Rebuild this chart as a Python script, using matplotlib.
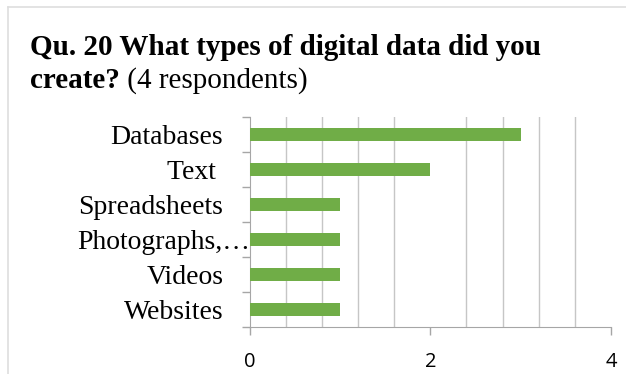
import matplotlib
matplotlib.use("Agg")
import matplotlib.pyplot as plt
import matplotlib.transforms as mtransforms
import numpy as np

categories = ["Databases", "Text ", "Spreadsheets", "Photographs,…", "Videos", "Websites"]
values = [3, 2, 1, 1, 1, 1]
x_major = [0, 2, 4]
x_grid_step = 0.4

bar_color = "#70ad47"
grid_color = "#c6c6c6"
axis_color = "#a6a6a6"

W, H = 626, 374
fig = plt.figure(figsize=(W / 100, H / 100), dpi=100)

# chart frame (light gray border)
fig.add_artist(plt.Line2D([8 / W, 8 / W], [0, 1 - 6.5 / H], transform=fig.transFigure,
                          color="#dedede", lw=1.2))
fig.add_artist(plt.Line2D([8 / W, 1], [1 - 6.5 / H, 1 - 6.5 / H], transform=fig.transFigure,
                          color="#dedede", lw=1.2))

# title
serif = "Liberation Serif"
fs_title = 21
fig.text(30 / W, 1 - 55 / H, "Qu. 20 What types of digital data did you",
         fontfamily=serif, fontweight="bold", fontsize=fs_title, ha="left", va="baseline")
t1 = fig.text(30 / W, 1 - 88 / H, "create?", fontfamily=serif, fontweight="bold",
              fontsize=fs_title, ha="left", va="baseline")
fig.canvas.draw()
bb = t1.get_window_extent()
fig.text(bb.x1 / W, 1 - 88 / H, " (4 respondents)", fontfamily=serif,
         fontsize=fs_title, ha="left", va="baseline")

left, right = 249.7 / W, 611 / W
bottom, top = 1 - 326.7 / H, 1 - 117.4 / H
ax = fig.add_axes([left, bottom, right - left, top - bottom])

y = np.arange(len(categories))
ax.barh(y, values, height=0.38, color=bar_color, zorder=3)
ax.set_ylim(len(categories) - 0.5, -0.5)
ax.set_xlim(0, 4)

# gridlines
ax.set_xticks(np.arange(0, 4 + 1e-9, x_grid_step), minor=True)
ax.grid(True, axis="x", which="minor", color=grid_color, lw=1.0, zorder=0)
ax.set_xticks(x_major)
ax.set_xticklabels([str(v) for v in x_major], fontfamily="Open Sans", fontsize=14.5)
ax.tick_params(axis="x", which="major", length=6, width=1, color=axis_color,
               direction="out", pad=12.5)
ax.tick_params(axis="x", which="minor", length=0)

ax.set_yticks(y)
ax.set_yticklabels(categories, fontfamily=serif, fontsize=20)
ax.set_yticks(np.arange(-0.5, len(categories), 1), minor=True)
ax.tick_params(axis="y", which="major", length=0, pad=19)
ax.tick_params(axis="y", which="minor", length=6, width=1, color=axis_color, direction="out")

for s in ["top", "right"]:
    ax.spines[s].set_visible(False)
ax.spines["left"].set_color(axis_color)
ax.spines["bottom"].set_color(axis_color)

# the truncated label overflows toward the axis
lab = ax.get_yticklabels()[3]
lab.set_transform(lab.get_transform() + mtransforms.ScaledTranslation(27 / 100, 0, fig.dpi_scale_trans))

fig.savefig("out.png", dpi=100)
